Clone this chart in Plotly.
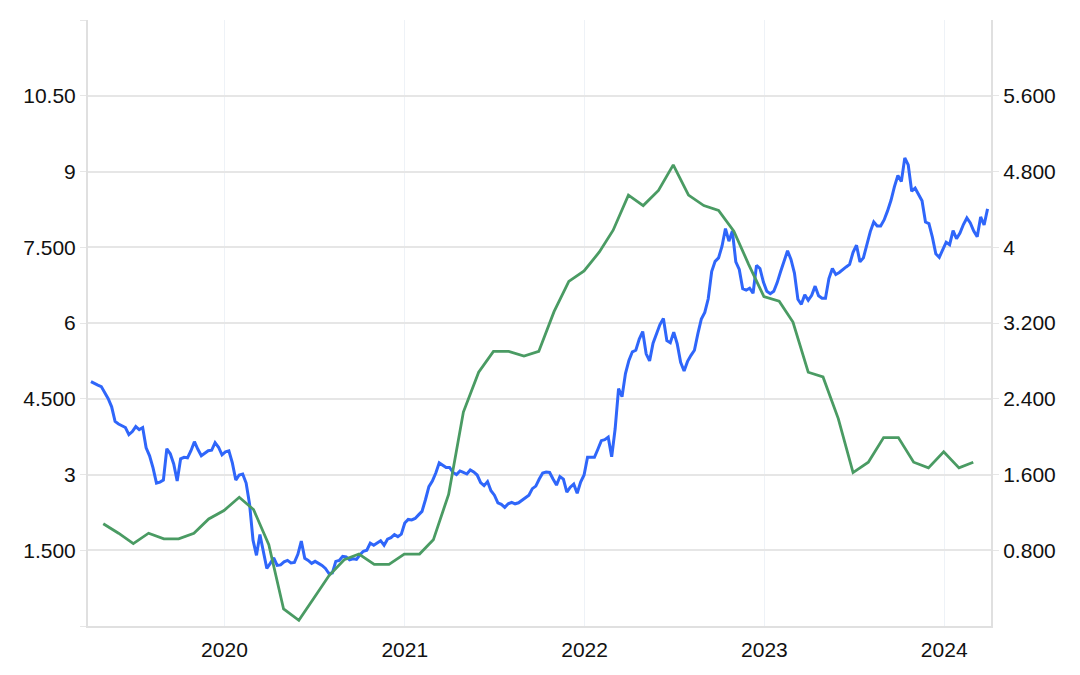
import pandas as pd
import plotly.graph_objects as go

# Weekly series (left axis), starting 2019-04-05
blue_start = "2019-04-05"
blue_values = [
    4.84, 4.80, 4.77, 4.74, 4.62, 4.50, 4.34, 4.05, 4.00, 3.97,
    3.93, 3.79, 3.85, 3.95, 3.89, 3.93, 3.53, 3.37, 3.13, 2.83,
    2.85, 2.89, 3.51, 3.41, 3.21, 2.87, 3.31, 3.34, 3.33, 3.47,
    3.65, 3.50, 3.37, 3.42, 3.47, 3.48, 3.63, 3.54, 3.39, 3.45,
    3.47, 3.23, 2.89, 2.99, 3.01, 2.83, 2.41, 1.70, 1.40, 1.81,
    1.46, 1.14, 1.24, 1.35, 1.20, 1.21, 1.27, 1.30, 1.25, 1.26,
    1.42, 1.68, 1.34, 1.30, 1.24, 1.28, 1.24, 1.20, 1.14, 1.04,
    1.05, 1.28, 1.30, 1.38, 1.37, 1.31, 1.33, 1.32, 1.41, 1.48,
    1.50, 1.64, 1.60, 1.64, 1.69, 1.60, 1.72, 1.75, 1.81, 1.77,
    1.82, 2.04, 2.11, 2.10, 2.13, 2.20, 2.27, 2.50, 2.76, 2.87,
    3.03, 3.23, 3.19, 3.14, 3.14, 3.04, 3.00, 3.07, 3.04, 3.01,
    3.09, 3.05, 2.99, 2.84, 2.78, 2.86, 2.68, 2.59, 2.44, 2.41,
    2.35, 2.42, 2.45, 2.42, 2.44, 2.49, 2.53, 2.59, 2.72, 2.77,
    2.91, 3.03, 3.05, 3.04, 2.91, 2.79, 2.96, 2.91, 2.65, 2.75,
    2.81, 2.63, 2.85, 2.99, 3.34, 3.34, 3.34, 3.50, 3.67, 3.69,
    3.74, 3.35, 3.90, 4.70, 4.54, 5.00, 5.26, 5.43, 5.46, 5.68,
    5.83, 5.39, 5.25, 5.60, 5.79, 5.97, 6.09, 5.65, 5.61, 5.82,
    5.59, 5.22, 5.05, 5.24, 5.36, 5.46, 5.79, 6.08, 6.21, 6.48,
    7.02, 7.22, 7.29, 7.52, 7.87, 7.62, 7.82, 7.21, 7.06, 6.68,
    6.65, 6.69, 6.59, 7.14, 7.08, 6.81, 6.63, 6.58, 6.63, 6.80,
    7.02, 7.23, 7.43, 7.26, 6.99, 6.47, 6.37, 6.56, 6.45, 6.55,
    6.73, 6.54, 6.49, 6.49, 6.88, 7.08, 6.96, 7.00, 7.06, 7.11,
    7.16, 7.40, 7.54, 7.21, 7.29, 7.56, 7.81, 8.00, 7.92, 7.92,
    8.04, 8.22, 8.43, 8.70, 8.92, 8.80, 9.27, 9.13, 8.61, 8.67,
    8.53, 8.42, 8.00, 7.97, 7.70, 7.37, 7.30, 7.44, 7.60, 7.55,
    7.83, 7.67, 7.78, 7.95, 8.08, 7.98, 7.82, 7.71, 8.10, 7.94,
    8.26,
]

# Monthly series (right axis), month ends from 2019-04-30
green_start = "2019-04-30"
green_values = [
    1.08, 0.98, 0.87, 0.98, 0.92, 0.92, 0.98, 1.13, 1.22,
    1.36, 1.23, 0.86, 0.18, 0.06, 0.29, 0.53, 0.70, 0.76, 0.65, 0.65, 0.76,
    0.76, 0.91, 1.39, 2.26, 2.68, 2.90, 2.90, 2.85, 2.90, 3.32, 3.64, 3.75,
    3.95, 4.18, 4.55, 4.44, 4.60, 4.87, 4.55, 4.44, 4.39, 4.17, 3.82, 3.48,
    3.43, 3.21, 2.68, 2.63, 2.19, 1.62, 1.73, 1.99, 1.99, 1.73, 1.67, 1.84,
    1.67, 1.73,
]

x_tick_vals = ["2020-01-01", "2021-01-01", "2022-01-01", "2023-01-01", "2024-01-01"]
x_tick_text = ["2020", "2021", "2022", "2023", "2024"]
left_tick_vals = [0, 1.5, 3, 4.5, 6, 7.5, 9, 10.5, 12]
left_tick_text = ["", "1.500", "3", "4.500", "6", "7.500", "9", "10.50", ""]
right_tick_vals = [0.8, 1.6, 2.4, 3.2, 4.0, 4.8, 5.6]
right_tick_text = ["0.800", "1.600", "2.400", "3.200", "4", "4.800", "5.600"]

blue_dates = pd.date_range(blue_start, periods=len(blue_values), freq="7D")
green_dates = pd.date_range(green_start, periods=len(green_values), freq=pd.offsets.MonthEnd())

BLUE = "#2f66fa"
GREEN = "#4a9b63"
FONT = "Liberation Sans, Arial, sans-serif"
GRID = "#e6e6e6"
VGRID = "#eef2f7"
AXIS = "#e0e0e0"

fig = go.Figure()
fig.add_trace(go.Scatter(x=blue_dates, y=blue_values, mode="lines",
                         line=dict(color=BLUE, width=3), yaxis="y",
                         showlegend=False, hoverinfo="skip"))
fig.add_trace(go.Scatter(x=green_dates, y=green_values, mode="lines",
                         line=dict(color=GREEN, width=2.8), yaxis="y2",
                         showlegend=False, hoverinfo="skip"))

fig.update_layout(
    width=1080, height=675,
    margin=dict(l=88, r=89, t=20, b=49),
    paper_bgcolor="white", plot_bgcolor="white",
    font=dict(family=FONT, size=21, color="#111111"),
    xaxis=dict(type="date", range=["2019-03-30", "2024-04-05"],
               tickvals=x_tick_vals, ticktext=x_tick_text,
               showgrid=True, gridcolor=VGRID, gridwidth=1,
               showline=True, linecolor=AXIS, linewidth=2,
               ticks="outside", ticklen=4, tickcolor="rgba(0,0,0,0)",
               zeroline=False, fixedrange=True),
    yaxis=dict(range=[0, 12], tickvals=left_tick_vals, ticktext=left_tick_text,
               showgrid=True, gridcolor=GRID, gridwidth=1.5,
               showline=True, linecolor=AXIS, linewidth=2,
               ticks="outside", ticklen=6, tickcolor=GRID,
               zeroline=False, fixedrange=True),
    yaxis2=dict(range=[0, 6.4], tickvals=right_tick_vals, ticktext=right_tick_text,
                overlaying="y", side="right", showgrid=False,
                showline=True, linecolor=AXIS, linewidth=2,
                ticks="outside", ticklen=6, tickcolor=GRID,
                zeroline=False, fixedrange=True),
)

fig.write_html("out.html")
